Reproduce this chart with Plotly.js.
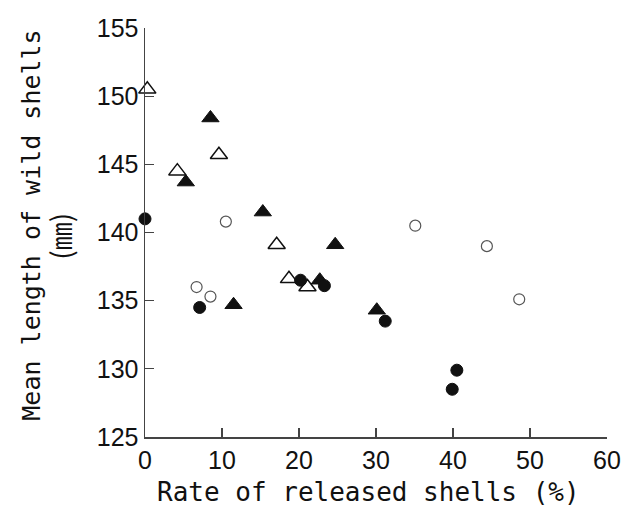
<!DOCTYPE html>
<html>
<head>
<meta charset="utf-8">
<script src="https://cdn.plot.ly/plotly-3.0.1.min.js"></script>
<style>html,body{margin:0;padding:0;background:#fff;}#chart{width:621px;height:520px;}</style>
</head>
<body>
<div id="chart"></div>
<script>
// Rate of released shells (%) vs mean length of wild shells (mm)
const xFilledCircle = [0, 7.1, 20.2, 23.3, 31.2, 40.5, 39.9];
const yFilledCircle = [141.0, 134.5, 136.5, 136.1, 133.5, 129.9, 128.5];
const xOpenCircle = [10.5, 6.7, 8.5, 35.1, 44.4, 48.6];
const yOpenCircle = [140.8, 136.0, 135.3, 140.5, 139.0, 135.1];
const xFilledTri = [8.5, 5.3, 15.3, 11.5, 24.7, 22.7, 30.1];
const yFilledTri = [148.4, 143.7, 141.5, 134.7, 139.1, 136.5, 134.3];
const xOpenTri = [0.3, 9.6, 4.2, 17.1, 18.7, 21.1];
const yOpenTri = [150.5, 145.7, 144.5, 139.1, 136.6, 136.0];

const xTicks = [0, 10, 20, 30, 40, 50, 60];
const yTicks = [125, 130, 135, 140, 145, 150, 155];
const xTitle = 'Rate of released shells (%)';
const yTitle = 'Mean length of wild shells';
const yUnit = '(㎜)';

const traces = [
  {x: xOpenTri, y: yOpenTri, type: 'scatter', mode: 'markers', cliponaxis: false,
   marker: {symbol: 'triangle-up', size: 15, color: '#ffffff', line: {color: '#111', width: 1.5}}},
  {x: xOpenCircle, y: yOpenCircle, type: 'scatter', mode: 'markers', cliponaxis: false,
   marker: {symbol: 'circle', size: 11, color: '#ffffff', line: {color: '#555', width: 1.2}}},
  {x: xFilledTri, y: yFilledTri, type: 'scatter', mode: 'markers', cliponaxis: false,
   marker: {symbol: 'triangle-up', size: 15, color: '#111', line: {color: '#111', width: 1}}},
  {x: xFilledCircle, y: yFilledCircle, type: 'scatter', mode: 'markers', cliponaxis: false,
   marker: {symbol: 'circle', size: 12, color: '#111', line: {color: '#111', width: 1}}}
];

const tickFont = {family: '"Liberation Sans Narrow", "Arial Narrow", "Liberation Sans", sans-serif', size: 25, color: '#111'};
const titleFont = {family: '"DejaVu Sans Mono", monospace', size: 25, color: '#111'};

const layout = {
  width: 621, height: 520,
  margin: {l: 145, r: 14.3, t: 28, b: 82.5},
  paper_bgcolor: '#fff', plot_bgcolor: '#fff',
  showlegend: false,
  xaxis: {range: [0, 60], tickvals: xTicks, ticktext: xTicks.map(String),
    showline: true, linecolor: '#444', linewidth: 1.5, ticks: 'inside', ticklen: 9,
    tickcolor: '#444', tickwidth: 1.3, showgrid: false, zeroline: false, tickfont: tickFont},
  yaxis: {range: [125, 155], tickvals: yTicks, ticktext: yTicks.map(String),
    showline: true, linecolor: '#444', linewidth: 1.5, ticks: 'inside', ticklen: 9,
    tickcolor: '#444', tickwidth: 1.3, showgrid: false, zeroline: false, tickfont: tickFont},
  annotations: [
    {text: xTitle, xref: 'paper', yref: 'paper', x: 0.483, y: -0.1355,
     xanchor: 'center', yanchor: 'middle', showarrow: false, font: {family: titleFont.family, size: 26, color: '#111'}},
    {text: yTitle, xref: 'paper', yref: 'paper', x: -0.2447, y: 0.519, textangle: -90,
     xanchor: 'center', yanchor: 'middle', showarrow: false, font: titleFont},
    {text: yUnit, xref: 'paper', yref: 'paper', x: -0.184, y: 0.492, textangle: -90,
     xanchor: 'center', yanchor: 'middle', showarrow: false,
     font: {family: '"Noto Sans CJK JP", "DejaVu Sans Mono", sans-serif', size: 28, color: '#111'}}
  ]
};

Plotly.newPlot('chart', traces, layout, {displayModeBar: false, staticPlot: true});
</script>
</body>
</html>
